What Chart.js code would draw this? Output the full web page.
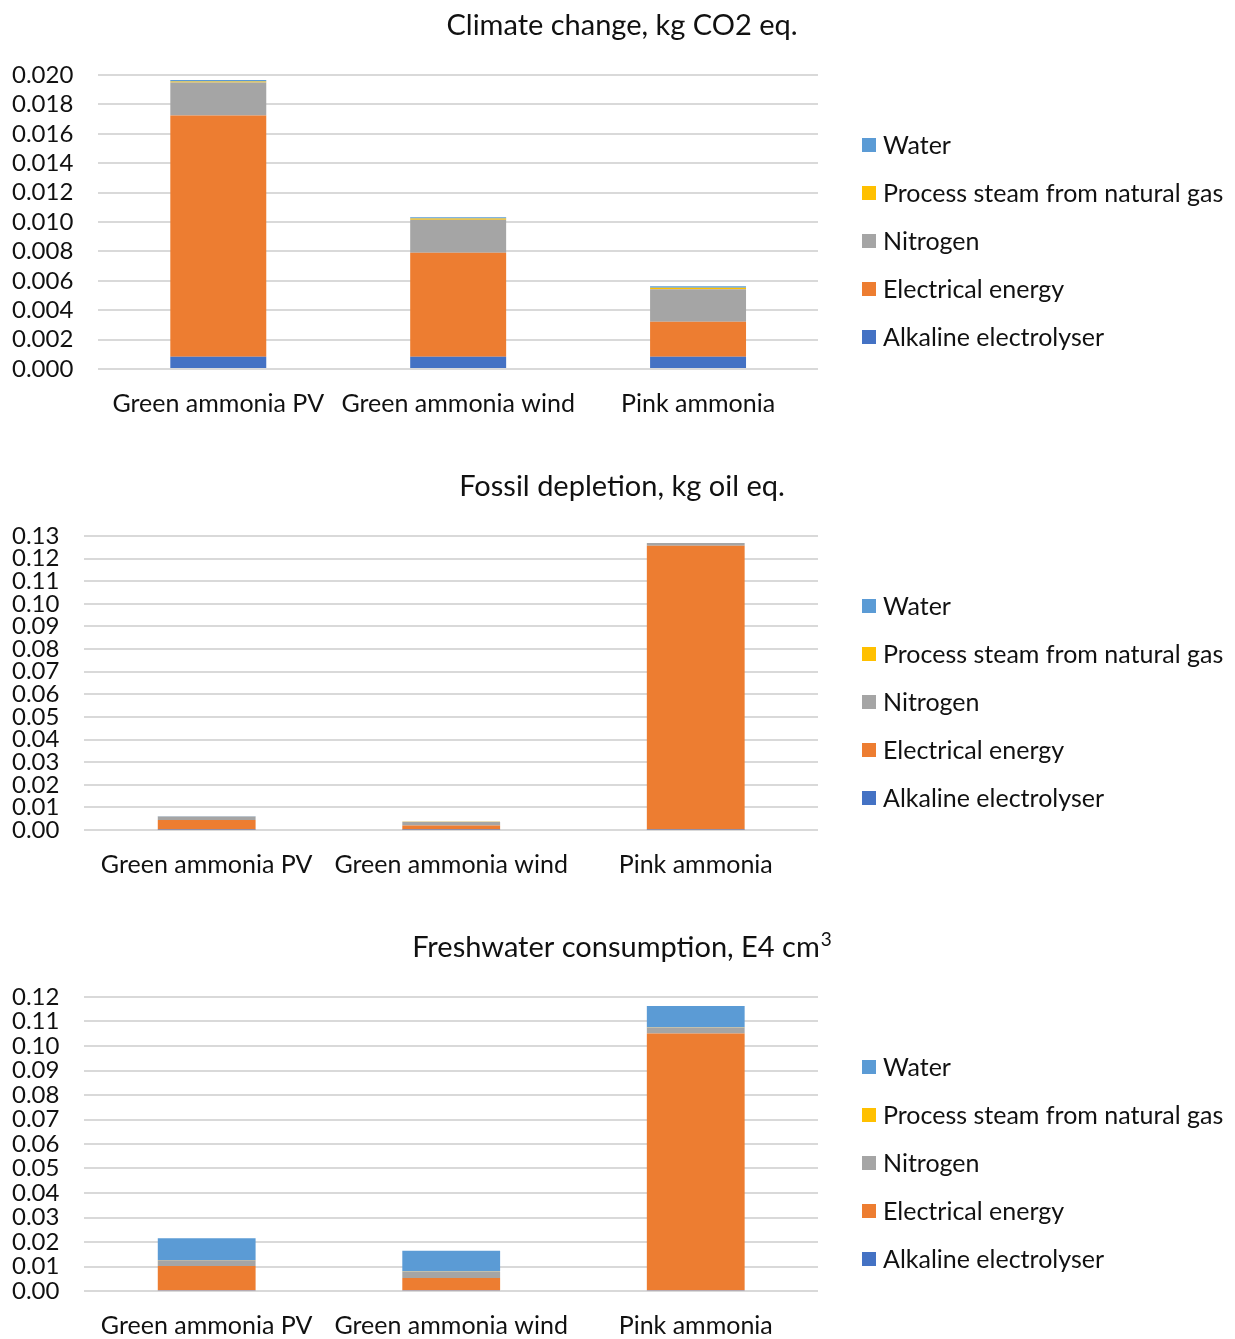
<!DOCTYPE html>
<html>
<head>
<meta charset="utf-8">
<title>Ammonia LCA</title>
<script src="https://cdn.jsdelivr.net/npm/chart.js@4"></script>
<style>
  html, body { margin: 0; padding: 0; background: #fff; overflow: hidden; }
  canvas { display: block; }
</style>
</head>
<body>
<canvas id="climate" width="1235" height="461"></canvas>
<canvas id="fossil" width="1235" height="461"></canvas>
<canvas id="water" width="1235" height="461"></canvas>

<script>
// routes compared in every panel
const categories = ['Green ammonia PV', 'Green ammonia wind', 'Pink ammonia'];

// climate change, kg CO2 eq.
const climateElectrolyser = [0.00084, 0.00084, 0.00084];
const climateElectricity  = [0.0164, 0.00707, 0.00238];
const climateNitrogen     = [0.00225, 0.00225, 0.0022];
const climateSteam        = [0.00007, 0.00007, 0.00011];
const climateWater        = [0.0001, 0.0001, 0.0001];

// fossil depletion, kg oil eq.
const fossilElectrolyser = [0.0002, 0.0002, 0.0002];
const fossilElectricity  = [0.0042, 0.0018, 0.1255];
const fossilNitrogen     = [0.0016, 0.0017, 0.0012];
const fossilSteam        = [0.00002, 0.00002, 0.00002];
const fossilWater        = [0.00001, 0.00001, 0.00001];

// freshwater consumption, E4 cm3
const waterElectrolyser = [0.0003, 0.0003, 0.0003];
const waterElectricity  = [0.0099, 0.005, 0.1048];
const waterNitrogen     = [0.0024, 0.0027, 0.0025];
const waterSteam        = [0.00002, 0.00002, 0.00002];
const waterWater        = [0.0089, 0.0084, 0.0087];

const seriesNames  = ['Alkaline electrolyser', 'Electrical energy', 'Nitrogen', 'Process steam from natural gas', 'Water'];
const seriesColors = ['#4472C4', '#ED7D31', '#A5A5A5', '#FFC000', '#5B9BD5'];

const FONT = 'Lato';
const TEXT = '#111';

// panel title centred on the whole canvas (optional superscript tail)
// + legend to the right of the plot, top entry = last stacked series
const panelDecor = {
  id: 'panelDecor',
  afterDraw(chart, args, opts) {
    const ctx = chart.ctx;
    ctx.save();
    ctx.fillStyle = TEXT;
    ctx.textBaseline = 'alphabetic';
    ctx.textAlign = 'left';
    ctx.font = '29px ' + FONT;
    const mainW = ctx.measureText(opts.title).width;
    let supW = 0;
    if (opts.sup) {
      ctx.font = '19px ' + FONT;
      supW = ctx.measureText(opts.sup).width + 1;
    }
    const x0 = 622 - (mainW + supW) / 2;
    ctx.font = '29px ' + FONT;
    ctx.fillText(opts.title, x0, 35);
    if (opts.sup) {
      ctx.font = '19px ' + FONT;
      ctx.fillText(opts.sup, x0 + mainW + 1, 24);
    }

    const sets = chart.data.datasets.slice().reverse();
    ctx.font = '25px ' + FONT;
    ctx.textBaseline = 'middle';
    sets.forEach((ds, i) => {
      const y = 145 + i * 48;
      ctx.fillStyle = ds.backgroundColor;
      ctx.fillRect(862, y - 7, 14, 14);
      ctx.fillStyle = TEXT;
      ctx.fillText(ds.label, 883, y + 1);
    });
    ctx.restore();
  }
};

function makeChart(id, title, sup, series, max, step, decimals) {
  const datasets = series.map((d, i) => ({
    label: seriesNames[i],
    data: d,
    backgroundColor: seriesColors[i],
    borderWidth: 0,
    categoryPercentage: 1.0,
    barPercentage: 0.4
  }));

  return new Chart(document.getElementById(id), {
    type: 'bar',
    data: { labels: categories, datasets: datasets },
    plugins: [panelDecor],
    options: {
      responsive: false,
      animation: false,
      devicePixelRatio: 1,
      layout: { padding: { left: -13, right: 417, top: 75, bottom: 22 } },
      plugins: {
        panelDecor: { title: title, sup: sup },
        title: { display: false },
        legend: { display: false },
        tooltip: { enabled: false }
      },
      scales: {
        x: {
          stacked: true,
          grid: { display: false, drawTicks: false },
          border: { display: false },
          ticks: {
            color: TEXT,
            font: { family: FONT, size: 25, lineHeight: 1.2 },
            padding: 20,
            maxRotation: 0,
            autoSkip: false
          }
        },
        y: {
          stacked: true,
          min: 0,
          max: max,
          grid: { color: '#d9d9d9', lineWidth: 2, drawTicks: false },
          border: { display: false },
          ticks: {
            color: TEXT,
            font: { family: FONT, size: 24 },
            stepSize: step,
            autoSkip: false,
            padding: 25,
            callback: v => v.toFixed(decimals)
          }
        }
      }
    }
  });
}

makeChart('climate', 'Climate change, kg CO2 eq.', '',
  [climateElectrolyser, climateElectricity, climateNitrogen, climateSteam, climateWater], 0.02, 0.002, 3);
makeChart('fossil', 'Fossil depletion, kg oil eq.', '',
  [fossilElectrolyser, fossilElectricity, fossilNitrogen, fossilSteam, fossilWater], 0.13, 0.01, 2);
makeChart('water', 'Freshwater consumption, E4 cm', '3',
  [waterElectrolyser, waterElectricity, waterNitrogen, waterSteam, waterWater], 0.12, 0.01, 2);
</script>
</body>
</html>
